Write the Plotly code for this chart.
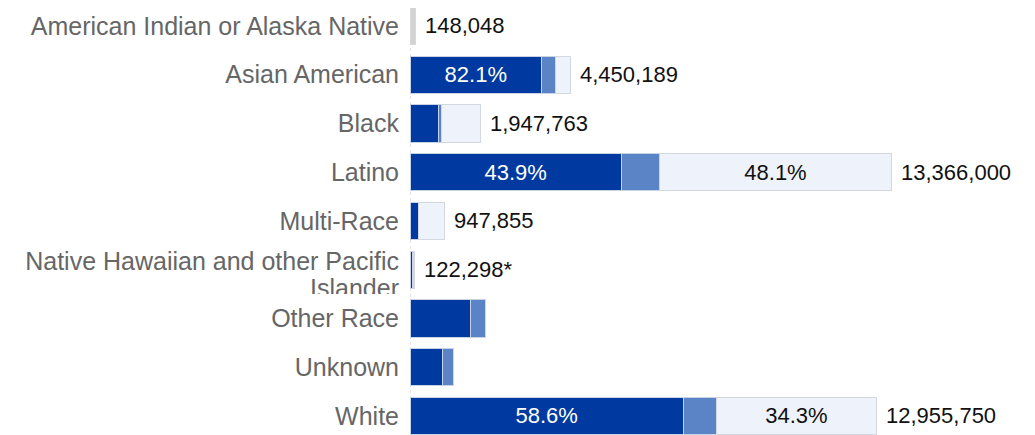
import plotly.graph_objects as go

categories = [
    "American Indian or Alaska Native",
    "Asian American",
    "Black",
    "Latino",
    "Multi-Race",
    "Native Hawaiian and other Pacific",
    "Other Race",
    "Unknown",
    "White",
]
label_second_line = ["", "", "", "", "", "Islander", "", "", ""]

population = [148048, 4450189, 1947763, 13366000, 947855, 122298, None, None, 12955750]
total_notes = ["", "", "", "", "", "*", "", "", ""]

fully = [0, 3653600, 800000, 5867700, 225000, 80000, 1670000, 910000, 7592070]
partial = [0, 375000, 68000, 1069300, 8000, 12000, 420000, 310000, 919858]
unvax = [148048, 421589, 1079763, 6429000, 714855, 30298, 0, 0, 4443822]

fully_label = ["", "82.1%", "", "43.9%", "", "", "", "", "58.6%"]
unvax_label = ["", "", "", "48.1%", "", "", "", "", "34.3%"]

DARK = "#003aa0"
MID = "#5a84c6"
LIGHT = "#eef3fb"
GRAY = "#d2d2d2"
FONT = "Liberation Sans, Arial, sans-serif"

ypos = list(range(len(categories)))

fig = go.Figure()
fig.add_trace(go.Bar(
    y=ypos, x=fully, orientation="h", width=0.76,
    marker=dict(color=DARK, line=dict(color="#c9d3e6", width=1)),
    text=fully_label, textposition="inside", insidetextanchor="middle",
    textangle=0, constraintext="none",
    textfont=dict(color="white", size=22, family=FONT),
    hoverinfo="skip",
))
fig.add_trace(go.Bar(
    y=ypos, x=partial, orientation="h", width=0.76,
    marker=dict(color=MID, line=dict(color="#c9d3e6", width=1)),
    hoverinfo="skip",
))
fig.add_trace(go.Bar(
    y=ypos, x=unvax, orientation="h", width=0.76,
    marker=dict(color=[GRAY if f == 0 else LIGHT for f in fully],
                line=dict(color=["#d8d8d8" if f == 0 else "#d3d8e0" for f in fully], width=1)),
    text=unvax_label, textposition="inside", insidetextanchor="middle",
    textangle=0, constraintext="none",
    textfont=dict(color="#111111", size=22, family=FONT),
    hoverinfo="skip",
))

for i, (p, note) in enumerate(zip(population, total_notes)):
    if p is None:
        continue
    fig.add_annotation(
        x=p, y=i, xref="x", yref="y", text=f"{p:,}{note}",
        showarrow=False, xanchor="left", yanchor="middle", xshift=8,
        font=dict(size=22, color="#111111", family=FONT),
    )

tickvals = []
ticktext = []
for i, (c, s) in enumerate(zip(categories, label_second_line)):
    if s:
        tickvals += [i - 0.17, i + 0.37]
        ticktext += [c, s]
    else:
        tickvals.append(i)
        ticktext.append(c)

# page body has an 8px default margin; figure sized so it fits the 1035x435 window
fig.update_layout(
    width=1027, height=427,
    margin=dict(l=402, r=0, t=0, b=0),
    barmode="stack",
    showlegend=False,
    plot_bgcolor="white", paper_bgcolor="white",
    xaxis=dict(range=[0, 17360000], showgrid=False, zeroline=False,
               showticklabels=False, ticks="", fixedrange=True),
    yaxis=dict(range=[8.39, -0.369], autorange=False, tickmode="array",
               tickvals=tickvals, ticktext=ticktext, showgrid=False,
               zeroline=False, ticks="", ticklabelstandoff=10, automargin=False,
               tickfont=dict(size=25, color="#666666", family=FONT)),
    shapes=[
        dict(type="line", xref="x", yref="paper", x0=0, x1=0, y0=0, y1=1,
             line=dict(color="#cccccc", width=1, dash="dot"), layer="below"),
        dict(type="rect", xref="paper", yref="y", x0=-0.66, x1=-0.012,
             y0=5.5, y1=5.75, fillcolor="white", line=dict(width=0), layer="above"),
    ],
)

fig.write_html("out.html")
